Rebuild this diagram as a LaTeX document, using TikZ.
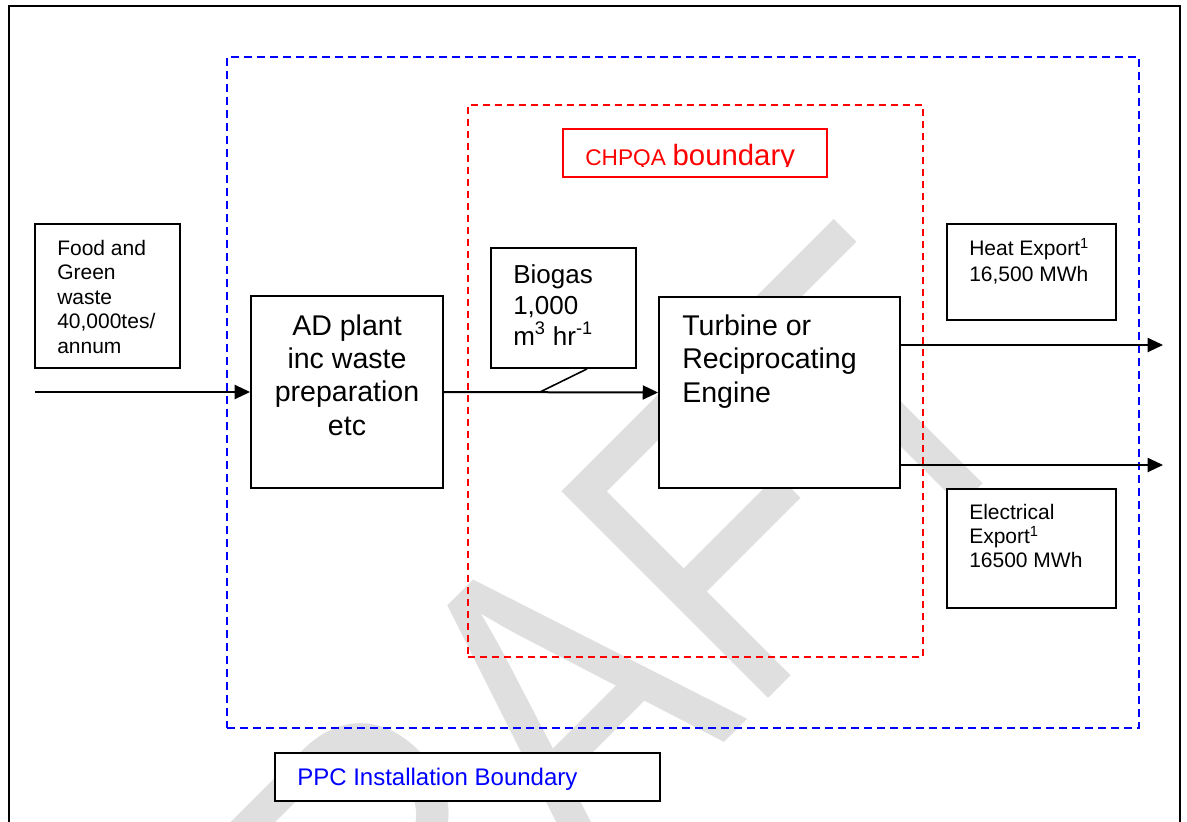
\documentclass[tikz,border=0pt]{standalone}
\usepackage{fontspec}
\setmainfont{Liberation Sans}
\usetikzlibrary{arrows.meta,fit,calc}

\tikzset{
  box/.style={draw, line width=1.4pt, fill=white, inner sep=0pt},
  labelbox/.style={draw, line width=1.6pt, fill=white, inner sep=0pt},
  smalltxt/.style={font=\fontsize{15.75}{18.375}\selectfont, align=left, anchor=base west, inner sep=0pt},
  bigtxt/.style={font=\fontsize{21.4}{25}\selectfont, inner sep=0pt},
  gastxt/.style={font=\fontsize{19.5}{23.25}\selectfont, align=left, anchor=base west, inner sep=0pt},
  flow/.style={line width=1.5pt, -{Triangle[length=11.5pt,width=10.5pt]}},
  ppcline/.style={draw=blue, line width=1.3pt, dash pattern=on 6pt off 3.75pt},
  chpline/.style={draw=red, line width=1.3pt, dash pattern=on 5.5pt off 3.5pt},
  watermark/.style={text=gray!25, font=\fontsize{258.75}{300}\selectfont, inner sep=0pt, anchor=base, rotate=45}
}

\begin{document}
\begin{tikzpicture}[x=0.75pt, y=-0.75pt]
\useasboundingbox (0,0) rectangle (1187,821);

% DRAFT watermark behind everything (stretched vertically like WordArt)
\begin{scope}
  \clip (0,0) rectangle (1187,821);
  \node[watermark] (wm) at (640,827) {\scalebox{1}[1.232]{DRAFT}};
\end{scope}

% page frame
\draw[line width=1.7pt] (9,840) -- (9,6) -- (1180,6) -- (1180,840);

% boundaries
\node[ppcline, fit={(227,57) (1139,728)}, inner sep=0pt] (ppc) {};
\node[chpline, fit={(468,105) (923,657)}, inner sep=0pt] (chp) {};

% boundary labels
\node[draw=red, line width=1.2pt, fill=white, fit={(563,129) (827,177)}, inner sep=0pt] (chplabel) {};
\begin{scope}
  \clip (563,129) rectangle (827,166.5);
  \node[anchor=base west, inner sep=0pt, text=red] (chptxt) at (585,165)
    {\fontsize{17}{20}\selectfont CHPQA\hspace{0.3em}\fontsize{22}{26}\selectfont boundary};
\end{scope}
\node[labelbox, fit={(275,753) (660,801)}] (ppclabel) {};
\node[anchor=base west, inner sep=0pt, text=blue, font=\fontsize{18}{21}\selectfont] (ppctxt) at (297,785)
  {PPC Installation Boundary};

% process boxes (multi-line texts are placed by the baseline of their last line)
\node[box, fit={(35,224) (180,368)}] (food) {};
\node[smalltxt] (foodtxt) at (57,353) {Food and\\Green\\waste\\40,000tes/\\annum};

\node[box, fit={(251,296) (443,488)}] (ad) {};
\node[bigtxt, align=center, anchor=base] (adtxt) at (347,435) {AD plant\\inc waste\\preparation\\etc};

\node[box, fit={(491,248) (636,368)}] (bio) {};
\node[gastxt] (biotxt) at (513,345) {Biogas\\1,000\\m\textsuperscript{3} hr\textsuperscript{-1}};

\node[box, fit={(659,297) (900,488)}] (tb) {};
\node[bigtxt, align=left, anchor=base west] (tbtxt) at (682,402) {Turbine or\\Reciprocating\\Engine};

\node[box, fit={(947,224) (1116,320)}] (heat) {};
\node[smalltxt, font=\fontsize{15.75}{19.5}\selectfont] (heattxt) at (969,281) {Heat Export\textsuperscript{1}\\16,500 MWh};

\node[box, fit={(947,489) (1116,608)}] (elec) {};
\node[smalltxt, font=\fontsize{15.75}{18}\selectfont] (electxt) at (969,567) {Electrical\\Export\textsuperscript{1}\\16500 MWh};

% flows
\coordinate (feed) at (35,392);
\coordinate (tail) at (540,392);
\coordinate (heatout) at (1163,345);
\coordinate (elecout) at (1163,465);

\draw[flow] (feed) -- (ad.west);
\draw[flow] (ad.east) -- (tb.west);
\draw[line width=1.2pt] ($(bio.south west)!0.66!(bio.south east)$) -- (tail);
\draw[flow] (tb.east |- heatout) -- (heatout);
\draw[flow] (tb.east |- elecout) -- (elecout);
\end{tikzpicture}
\end{document}
